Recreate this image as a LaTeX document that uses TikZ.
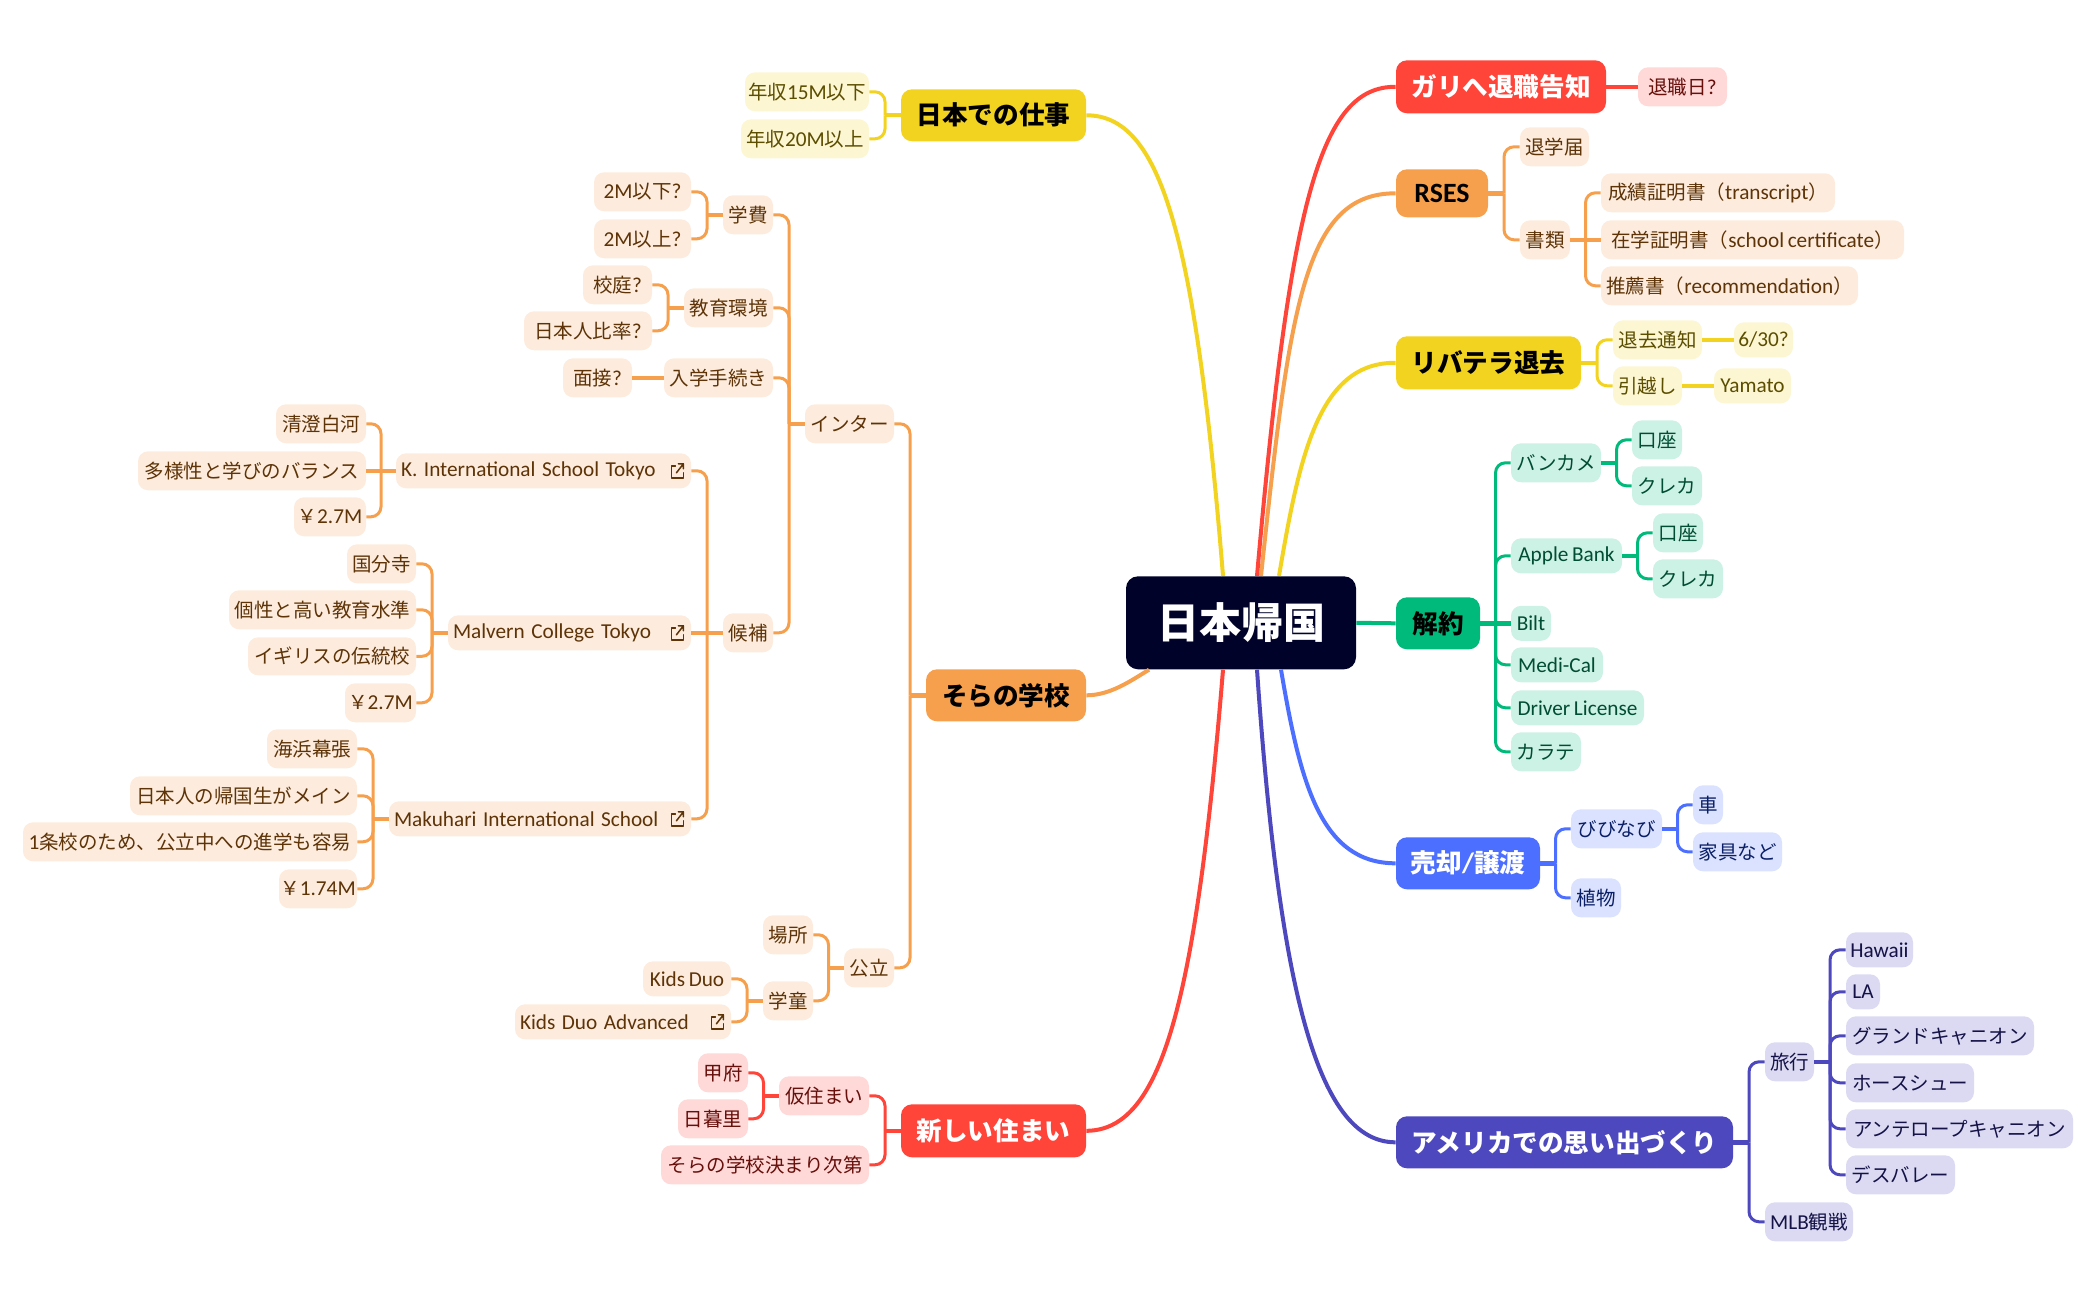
\documentclass[tikz,border=0pt]{standalone}
\usepackage{fontspec}
\usetikzlibrary{calc}
\setmainfont{Noto Sans CJK JP}
\newfontfamily\latn[Scale=1.09,WordSpace=0.75]{Carlito}
\definecolor{cY}{HTML}{F2D31F}\definecolor{lY}{HTML}{FCF6D2}\definecolor{tY}{HTML}{5C4E00}
\definecolor{cO}{HTML}{F6A04D}\definecolor{lO}{HTML}{FDECDD}\definecolor{tO}{HTML}{5D3307}
\definecolor{cR}{HTML}{FF443A}\definecolor{lR}{HTML}{FFD9D8}\definecolor{tR}{HTML}{660F0B}
\definecolor{cG}{HTML}{00BA7C}\definecolor{lG}{HTML}{CCF1E5}\definecolor{tG}{HTML}{004D33}
\definecolor{cB}{HTML}{4C6FFF}\definecolor{lB}{HTML}{DBE2FF}\definecolor{tB}{HTML}{0A1F66}
\definecolor{cP}{HTML}{4D48BD}\definecolor{lP}{HTML}{DBDAF2}\definecolor{tP}{HTML}{141246}
\definecolor{rootc}{HTML}{000229}
\tikzset{
  box/.style={inner sep=0pt,rounded corners=5pt,font=\fontsize{9.75}{11}\selectfont},
  sY/.style={box,fill=lY,text=tY},sO/.style={box,fill=lO,text=tO},sR/.style={box,fill=lR,text=tR},
  sG/.style={box,fill=lG,text=tG},sB/.style={box,fill=lB,text=tB},sP/.style={box,fill=lP,text=tP},
  mainb/.style={inner sep=0pt,rounded corners=5.5pt,font=\fontsize{12.8}{14}\selectfont\bfseries},
  mY/.style={mainb,fill=cY,text=black},mO/.style={mainb,fill=cO,text=black},mG/.style={mainb,fill=cG,text=black},
  mR/.style={mainb,fill=cR,text=white},mB/.style={mainb,fill=cB,text=white},mP/.style={mainb,fill=cP,text=white},
  rootb/.style={inner sep=0pt,rounded corners=6pt,fill=rootc,text=white,font=\fontsize{21}{24}\selectfont\bfseries},
  thinl/.style={line width=1.5pt,rounded corners=5pt},
  stubl/.style={line width=2.2pt},
  curvel/.style={line width=2pt}
}
\newcommand\nd[7]{%
  \pgfmathsetmacro\nW{(#5-#3)*0.5}\pgfmathsetmacro\nH{(#6-#4)*0.5}%
  \node[#2,minimum width=\nW pt,minimum height=\nH pt] (#1) at ({(#3+#5)/2},{(#4+#6)/2}) {#7};}
\newcommand\ndl[7]{%
  \pgfmathsetmacro\nW{(#5-#3)*0.5}\pgfmathsetmacro\nH{(#6-#4)*0.5}\pgfmathsetmacro\nT{\nW-5}%
  \node[#2,minimum width=\nW pt,minimum height=\nH pt,text width=\nT pt,inner xsep=2.5pt,align=left] (#1) at ({(#3+#5)/2},{(#4+#6)/2}) {#7};
  \begin{scope}[shift={(#1.east)},xshift=-7.5pt,line width=.75pt,color=tO,line cap=round,line join=round]
    \draw (-1,-5) -- (-5,-5) -- (-5,7) -- (7,7) -- (7,2);
    \draw (0,2) -- (7,-7) (2,-7) -- (7,-7) -- (7,-2);
  \end{scope}}
\newcommand\brR[3]{\foreach \k in {#3}{%
  \coordinate (m) at ($(#2.east)!.5!(\k.west)$);
  \draw[#1,thinl] (#2.east -| m) -- (\k.west -| m) -- (\k.west);
  \draw[#1,stubl] (#2.east) -- (#2.east -| m);}}
\newcommand\brL[3]{\foreach \k in {#3}{%
  \coordinate (m) at ($(#2.west)!.5!(\k.east)$);
  \draw[#1,thinl] (#2.west -| m) -- (\k.east -| m) -- (\k.east);
  \draw[#1,stubl] (#2.west) -- (#2.west -| m);}}
\begin{document}
\begin{tikzpicture}[x=0.5pt,y=-0.5pt]
\useasboundingbox (0,-1.3) rectangle (2096,1298.7);
\nd{root}{rootb}{1126}{575}{1356}{668}{日本帰国}
% left: job
\nd{job}{mY}{901}{88}{1086}{140}{日本での仕事}
\nd{j1}{sY}{745}{71}{869}{110}{年収{\latn 15M}以下}
\nd{j2}{sY}{741}{118}{869}{157}{年収{\latn 20M}以上}
% left: school
\nd{sch}{mO}{926}{668}{1086}{720}{そらの学校}
\nd{inter}{sO}{805}{403}{894}{442}{インター}
\nd{gakuhi}{sO}{723}{194}{773}{233}{学費}
\nd{g1}{sO}{594}{171}{691}{210}{{\latn 2M}以下{\latn ?}}
\nd{g2}{sO}{594}{218}{691}{257}{{\latn 2M}以上{\latn ?}}
\nd{kyo}{sO}{684}{287}{773}{326}{教育環境}
\nd{k1}{sO}{583}{264}{652}{303}{校庭{\latn ?}}
\nd{k2}{sO}{524}{310}{652}{349}{日本人比率{\latn ?}}
\nd{nyu}{sO}{664}{357}{773}{396}{入学手続き}
\nd{n1}{sO}{563}{357}{632}{396}{面接{\latn ?}}
\nd{koho}{sO}{723}{612}{773}{651}{候補}
\ndl{ki}{sO}{396}{452}{691}{487}{\latn K. International School Tokyo}
\nd{ki1}{sO}{276}{403}{366}{442}{清澄白河}
\nd{ki2}{sO}{138}{450}{366}{489}{多様性と学びのバランス}
\nd{ki3}{sO}{294}{496}{366}{535}{￥{\latn 2.7M}}
\ndl{mc}{sO}{448}{614}{691}{649}{\latn Malvern College Tokyo}
\nd{mc1}{sO}{347}{543}{416}{582}{国分寺}
\nd{mc2}{sO}{229}{589}{416}{628}{個性と高い教育水準}
\nd{mc3}{sO}{248}{636}{416}{674}{イギリスの伝統校}
\nd{mc4}{sO}{345}{682}{416}{721}{￥{\latn 2.7M}}
\ndl{ma}{sO}{389}{800}{691}{835}{\latn Makuhari International School}
\nd{ma1}{sO}{267}{728}{357}{767}{海浜幕張}
\nd{ma2}{sO}{130}{775}{357}{814}{日本人の帰国生がメイン}
\nd{ma3}{sO}{23}{821}{357}{860}{{\latn 1}条校のため、公立中への進学も容易}
\nd{ma4}{sO}{279}{868}{357}{907}{￥{\latn 1.74M}}
\nd{kou}{sO}{844}{947}{894}{986}{公立}
\nd{ko1}{sO}{763}{914}{813}{953}{場所}
\nd{ko2}{sO}{763}{980}{813}{1019}{学童}
\nd{kd1}{sO}{643}{960}{731}{995}{\latn Kids Duo}
\ndl{kd2}{sO}{515}{1003}{731}{1038}{\latn Kids Duo Advanced}
% left: home
\nd{home}{mR}{901}{1103}{1086}{1156}{新しい住まい}
\nd{h1}{sR}{779}{1075}{869}{1114}{仮住まい}
\nd{h11}{sR}{698}{1052}{748}{1091}{甲府}
\nd{h12}{sR}{678}{1098}{748}{1137}{日暮里}
\nd{h2}{sR}{661}{1144}{869}{1183}{そらの学校決まり次第}
% right
\nd{gali}{mR}{1396}{59}{1606}{112}{ガリへ退職告知}
\nd{ga1}{sR}{1638}{66}{1727}{105}{退職日{\latn ?}}
\nd{rses}{mO}{1396}{168}{1488}{216}{\latn RSES}
\nd{r1}{sO}{1520}{126}{1589}{165}{退学届}
\nd{r2}{sO}{1520}{219}{1570}{258}{書類}
\nd{r21}{sO}{1601}{172}{1835}{211}{成績証明書（{\latn transcript}）}
\nd{r22}{sO}{1601}{219}{1904}{258}{在学証明書（{\latn school certificate}）}
\nd{r23}{sO}{1601}{265}{1858}{304}{推薦書（{\latn recommendation}）}
\nd{riv}{mY}{1396}{335}{1581}{388}{リバテラ退去}
\nd{v1}{sY}{1613}{319}{1702}{358}{退去通知}
\nd{v11}{sY}{1734}{321}{1793}{356}{{\latn 6/30?}}
\nd{v2}{sY}{1613}{365}{1682}{404}{引越し}
\nd{v21}{sY}{1714}{367}{1791}{402}{\latn Yamato}
\nd{kai}{mG}{1396}{596}{1480}{648}{解約}
\nd{a1}{sG}{1511}{442}{1601}{481}{バンカメ}
\nd{a11}{sG}{1632}{419}{1682}{458}{口座}
\nd{a12}{sG}{1632}{465}{1702}{504}{クレカ}
\nd{a2}{sG}{1511}{537}{1622}{572}{\latn Apple Bank}
\nd{a21}{sG}{1653}{512}{1703}{551}{口座}
\nd{a22}{sG}{1653}{558}{1723}{597}{クレカ}
\nd{a3}{sG}{1511}{604.5}{1551}{639.5}{\latn Bilt}
\nd{a4}{sG}{1511}{646}{1603}{681}{\latn Medi-Cal}
\nd{a5}{sG}{1511}{689}{1644}{724}{\latn Driver License}
\nd{a6}{sG}{1511}{731}{1581}{770}{カラテ}
\nd{sell}{mB}{1396}{836}{1540}{888}{売却{\latn /}譲渡}
\nd{b1}{sB}{1571}{808}{1662}{847}{びびなび}
\nd{b11}{sB}{1693}{784}{1723}{823}{車}
\nd{b12}{sB}{1693}{831}{1782}{870}{家具など}
\nd{b2}{sB}{1571}{877}{1621}{916}{植物}
\nd{usa}{mP}{1396}{1115}{1733}{1167}{アメリカでの思い出づくり}
\nd{u1}{sP}{1765}{1041}{1814}{1080}{旅行}
\nd{u2}{sP}{1765}{1201}{1853}{1240}{{\latn MLB}観戦}
\nd{t1}{sP}{1846}{931}{1913}{966}{\latn Hawaii}
\nd{t2}{sP}{1846}{973}{1880}{1008}{\latn LA}
\nd{t3}{sP}{1846}{1015}{2034}{1054}{グランドキャニオン}
\nd{t4}{sP}{1846}{1062}{1974}{1101}{ホースシュー}
\nd{t5}{sP}{1846}{1108}{2073}{1147}{アンテロープキャニオン}
\nd{t6}{sP}{1846}{1154}{1955}{1193}{デスバレー}
% curves
\draw[cO,curvel] ($(root.north)+(20,0)$) .. controls (1290,300) and (1305,192) .. (rses.west);
\draw[cR,curvel] ($(root.north)+(16,0)$) .. controls (1290,200) and (1320,85) .. (gali.west);
\draw[cY,curvel] ($(root.north)+(38,0)$) .. controls (1300,450) and (1320,361) .. (riv.west);
\draw[cY,curvel] ($(root.north)+(-18,0)$) .. controls (1195,230) and (1160,114) .. (job.east);
\draw[cG,curvel] (root.east) -- (kai.west);
\draw[cO,curvel] ($(root.south)+(-92,0)$) .. controls (1130,680) and (1110,694) .. (sch.east);
\draw[cR,curvel] ($(root.south)+(-18,0)$) .. controls (1195,1010) and (1160,1129) .. (home.east);
\draw[cB,curvel] ($(root.south)+(40,0)$) .. controls (1300,780) and (1320,862) .. (sell.west);
\draw[cP,curvel] ($(root.south)+(16,0)$) .. controls (1280,1000) and (1320,1141) .. (usa.west);
% branches
\brL{cY}{job}{j1,j2}
\brL{cO}{sch}{inter,kou}
\brL{cO}{inter}{gakuhi,kyo,nyu,koho}
\brL{cO}{gakuhi}{g1,g2}
\brL{cO}{kyo}{k1,k2}
\draw[cO,stubl] (nyu.west) -- (n1.east);
\brL{cO}{koho}{ma,ki}
\draw[cO,stubl] (koho.west) -- (mc.east);
\brL{cO}{ki}{ki1,ki3}
\draw[cO,stubl] (ki.west) -- (ki2.east);
\brL{cO}{mc}{mc1,mc2,mc3,mc4}
\brL{cO}{ma}{ma1,ma2,ma3,ma4}
\brL{cO}{kou}{ko1,ko2}
\brL{cO}{ko2}{kd1,kd2}
\brL{cR}{home}{h1,h2}
\brL{cR}{h1}{h11,h12}
\draw[cR,stubl] (gali.east) -- (ga1.west);
\brR{cO}{rses}{r1,r2}
\brR{cO}{r2}{r21,r23}
\draw[cO,stubl] (r2.east) -- (r22.west);
\brR{cY}{riv}{v1,v2}
\draw[cY,stubl] (v1.east) -- (v11.west);
\draw[cY,stubl] (v2.east) -- (v21.west);
\brR{cG}{kai}{a1,a2,a4,a5,a6}
\draw[cG,stubl] (kai.east) -- (a3.west);
\brR{cG}{a1}{a11,a12}
\brR{cG}{a2}{a21,a22}
\brR{cB}{sell}{b1,b2}
\brR{cB}{b1}{b11,b12}
\brR{cP}{usa}{u1,u2}
\brR{cP}{u1}{t1,t2,t3,t4,t5,t6}
\end{tikzpicture}
\end{document}
